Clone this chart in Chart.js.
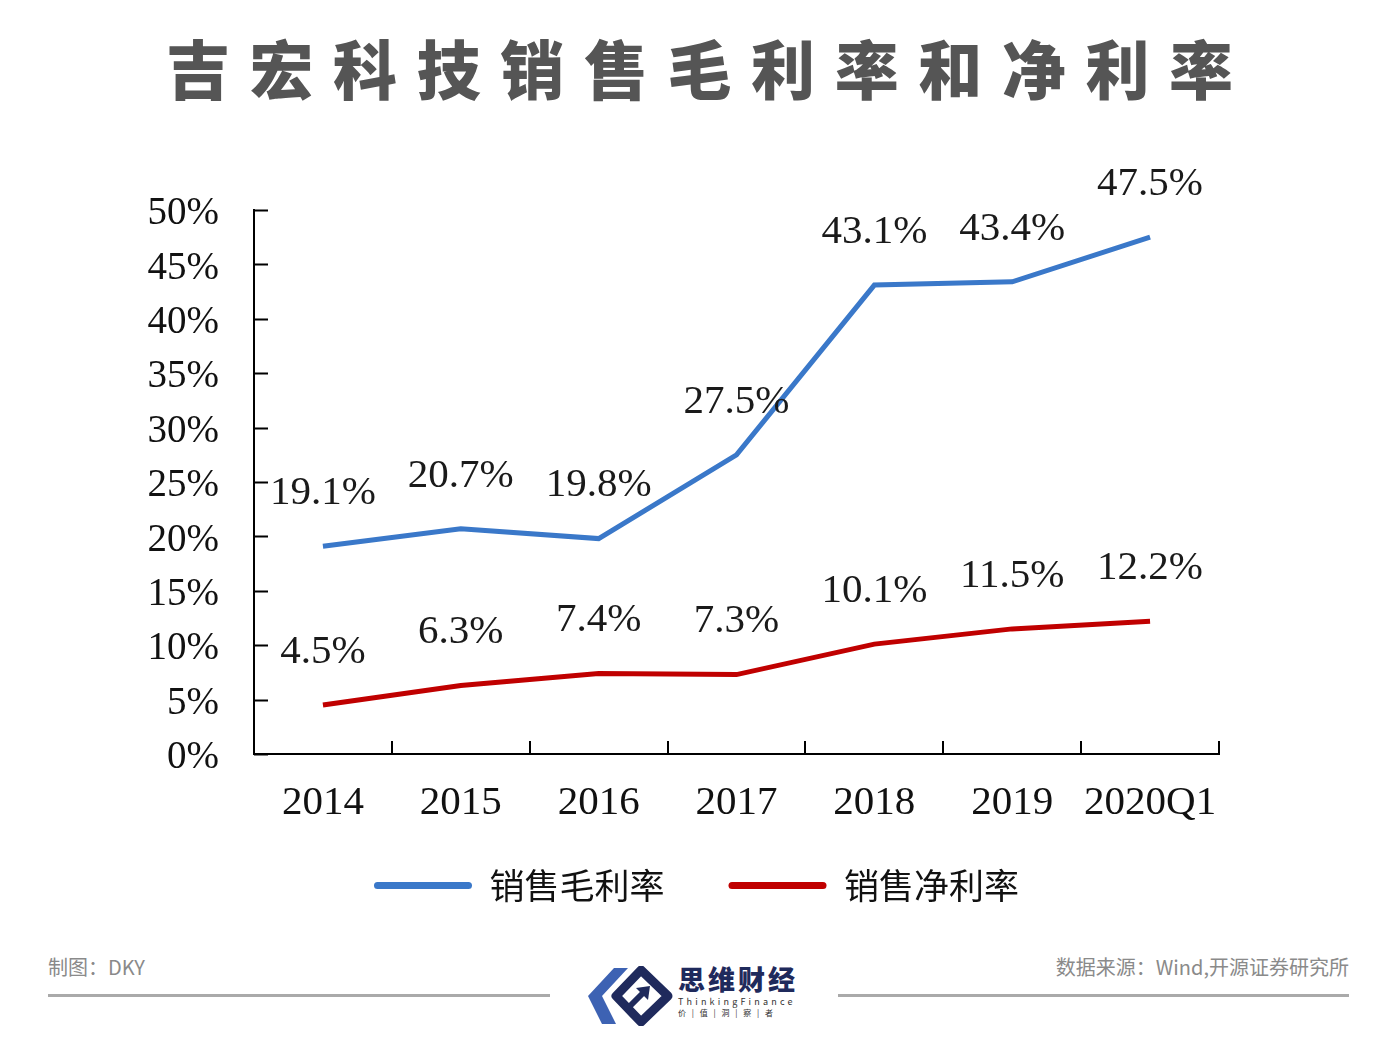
<!DOCTYPE html>
<html>
<head>
<meta charset="utf-8">
<script src="https://cdn.jsdelivr.net/npm/chart.js@4.4.0/dist/chart.umd.min.js"></script>
<style>
    body { margin: 0; background: #fff; width: 1399px; height: 1052px; position: relative; overflow: hidden; }
    #title { position: absolute; left: 0; top: 26px; width: 1399px; text-align: center; font-family: "Noto Sans CJK SC"; font-weight: 900; font-size: 64px; line-height: 80px; letter-spacing: 19.6px; padding-left: 19.6px; box-sizing: border-box; color: #555; }
    #wrap { position: absolute; left: 0; top: 0; width: 1399px; height: 940px; }
    .foot { position: absolute; top: 952px; font-family: "Noto Sans CJK SC"; font-size: 20px; color: #8a8a8a; }
    .rule { position: absolute; top: 994px; height: 3px; background: #aaa; }
    #brand { position: absolute; left: 678px; top: 962px; font-family: "Noto Sans CJK SC"; color: #1f2a5c; }
    #brand .cn { font-size: 27px; font-weight: 900; letter-spacing: 3px; line-height: 34px; }
    #brand .en { font-size: 9px; letter-spacing: 3.2px; line-height: 12px; color: #333; }
    #brand .sub { font-size: 8px; letter-spacing: 2px; line-height: 10px; color: #333; }
</style>
</head>
<body>
<div id="title">吉宏科技销售毛利率和净利率</div>
<div id="wrap"><canvas id="myChart"></canvas></div>

<div class="foot" style="left:48px;">制图：DKY</div>
<div class="foot" style="right:50px;">数据来源：Wind,开源证券研究所</div>
<div class="rule" style="left:48px; width:502px;"></div>
<div class="rule" style="left:838px; width:511px;"></div>
<svg style="position:absolute; left:586px; top:966px;" width="90" height="60" viewBox="0 0 90 60">
    <polygon points="28,2 42,2 16,30 30,58 16,58 2,30" fill="#3d62b3"/>
    <polygon points="55,4 82,30 55,56 30,30" fill="none" stroke="#1f2a5c" stroke-width="9" stroke-linejoin="round"/>
    <polyline points="40,44 58,26" stroke="#1f2a5c" stroke-width="6" fill="none"/>
    <polygon points="50,22 64,20 62,34" fill="#1f2a5c"/>
</svg>
<div id="brand">
    <div class="cn">思维财经</div>
    <div class="en">ThinkingFinance</div>
    <div class="sub">价 | 值 | 洞 | 察 | 者</div>
</div>

<script>
// chart data
const categories = ['2014', '2015', '2016', '2017', '2018', '2019', '2020Q1'];
const grossMargin = [19.1, 20.7, 19.8, 27.5, 43.1, 43.4, 47.5];
const netMargin = [4.5, 6.3, 7.4, 7.3, 10.1, 11.5, 12.2];
const yTicks = [0, 5, 10, 15, 20, 25, 30, 35, 40, 45, 50];

const serif = "'Liberation Serif', 'Times New Roman', serif";

// value labels above each point
const pointLabels = {
    id: 'pointLabels',
    afterDatasetsDraw(chart) {
        const ctx = chart.ctx;
        ctx.save();
        ctx.font = '41px ' + serif;
        ctx.fillStyle = '#1a1a1a';
        ctx.textAlign = 'center';
        ctx.textBaseline = 'middle';
        chart.data.datasets.forEach((ds, i) => {
            chart.getDatasetMeta(i).data.forEach((pt, j) => {
                ctx.fillText(ds.data[j].toFixed(1) + '%', pt.x, pt.y - 53);
            });
        });
        ctx.restore();
    }
};

// short tick marks pointing into the plot
const innerTicks = {
    id: 'innerTicks',
    afterDraw(chart) {
        const ctx = chart.ctx;
        const area = chart.chartArea;
        const x = chart.scales.x;
        const y = chart.scales.y;
        ctx.save();
        ctx.strokeStyle = '#000';
        ctx.lineWidth = 2;
        ctx.beginPath();
        yTicks.forEach(v => {
            const py = Math.round(y.getPixelForValue(v)) + 0.5;
            ctx.moveTo(area.left, py);
            ctx.lineTo(area.left + 14, py);
        });
        for (let i = 1; i <= categories.length; i++) {
            let px = i < categories.length
                ? (x.getPixelForValue(i - 1) + x.getPixelForValue(i)) / 2
                : area.right;
            px = Math.round(px);
            ctx.moveTo(px, area.bottom);
            ctx.lineTo(px, area.bottom - 13);
        }
        ctx.stroke();
        ctx.restore();
    }
};

// fixed axis sizes; labels may spill outside the axis box
function fixAxis(scale, size) {
    if (scale.isHorizontal()) {
        scale.height = size;
        scale.paddingLeft = 0;
        scale.paddingRight = 0;
    } else {
        scale.width = size;
        scale.paddingTop = 0;
        scale.paddingBottom = 0;
    }
    scale._computeLabelArea = () => null;
}

const ctx = document.getElementById('myChart').getContext('2d');

new Chart(ctx, {
    type: 'line',
    data: {
        labels: categories,
        datasets: [
            {
                label: '销售毛利率',
                data: grossMargin,
                borderColor: '#3a78c9',
                backgroundColor: '#3a78c9',
                borderWidth: 5,
                pointRadius: 0,
                tension: 0
            },
            {
                label: '销售净利率',
                data: netMargin,
                borderColor: '#c00000',
                backgroundColor: '#c00000',
                borderWidth: 5,
                pointRadius: 0,
                tension: 0
            }
        ]
    },
    options: {
        responsive: true,
        maintainAspectRatio: false,
        animation: false,
        layout: {
            padding: { left: 174, right: 180, top: 210, bottom: 27 }
        },
        plugins: {
            tooltip: { enabled: false },
            legend: {
                position: 'bottom',
                labels: {
                    boxWidth: 98,
                    boxHeight: 7,
                    useBorderRadius: true,
                    borderRadius: 3.5,
                    padding: 64,
                    color: '#111',
                    font: { size: 35, family: "'Noto Sans CJK SC', sans-serif" },
                    generateLabels(chart) {
                        return Chart.defaults.plugins.legend.labels.generateLabels(chart)
                            .map(item => ({ ...item, lineWidth: 0 }));
                    }
                }
            }
        },
        scales: {
            x: {
                offset: true,
                grid: { display: false },
                border: { color: '#000', width: 2 },
                ticks: {
                    color: '#111',
                    padding: 17,
                    maxRotation: 0,
                    font: { size: 41, family: serif }
                },
                afterFit: scale => fixAxis(scale, 50)
            },
            y: {
                min: 0,
                max: 50,
                grid: { display: false },
                border: { color: '#000', width: 2 },
                ticks: {
                    stepSize: 5,
                    color: '#111',
                    padding: 27,
                    labelOffset: 4,
                    font: { size: 39, family: serif },
                    callback: v => v + '%'
                },
                afterFit: scale => fixAxis(scale, 80)
            }
        }
    },
    plugins: [pointLabels, innerTicks]
});
</script>
</body>
</html>
